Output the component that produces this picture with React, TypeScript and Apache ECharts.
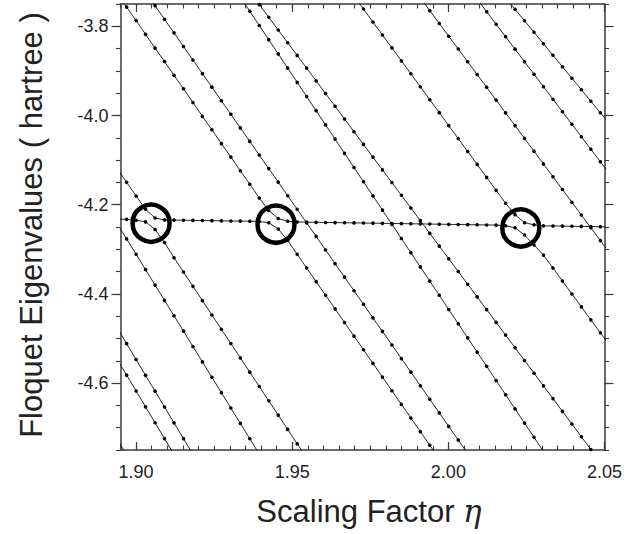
import React, { useEffect, useRef } from "react";
import * as echarts from "echarts";

// Scaling-factor grid (index 0 = first point, left of the plot edge)
const ETA = [
  1.89393, 1.89697, 1.9, 1.90303, 1.90607, 1.9091, 1.91214, 1.91517, 1.9182, 1.92124,
  1.92427, 1.92731, 1.93034, 1.93337, 1.93641, 1.93944, 1.94248, 1.94551, 1.94854, 1.95158,
  1.95461, 1.95765, 1.96068, 1.96371, 1.96675, 1.96978, 1.97282, 1.97585, 1.97888, 1.98192,
  1.98495, 1.98799, 1.99102, 1.99405, 1.99709, 2.00012, 2.00316, 2.00619, 2.00922, 2.01226,
  2.01529, 2.01833, 2.02136, 2.02439, 2.02743, 2.03046, 2.0335, 2.03653, 2.03956, 2.0426,
  2.04563, 2.04867, 2.0517,
];

// Each curve: start index into ETA and eigenvalues (hartree)
const curveS1 = { start: 0, values: [
  -4.2325, -4.2329, -4.235, -4.2384, -4.2556, -4.2848, -4.3189, -4.3509, -4.383, -4.4151,
  -4.4472, -4.4793, -4.5113, -4.5434, -4.5755, -4.6076, -4.6397, -4.6718, -4.7038, -4.7359, -4.768,
] };
const curveS2 = { start: 0, values: [
  -4.1191, -4.1498, -4.1805, -4.2103, -4.2298, -4.2341, -4.2345, -4.2348, -4.2352, -4.2355,
  -4.2358, -4.2362, -4.2365, -4.2368, -4.2371, -4.2375, -4.2406, -4.2545, -4.2803, -4.3112,
  -4.3418, -4.3724, -4.403, -4.4336, -4.4641, -4.4947, -4.5253, -4.5559, -4.5865, -4.6171,
  -4.6477, -4.6782, -4.7088, -4.7394, -4.77,
] };
const curveS3 = { start: 0, values: [
  -3.726, -3.757, -3.787, -3.818, -3.849, -3.879, -3.91, -3.94, -3.971, -4.002,
  -4.032, -4.063, -4.093, -4.124, -4.154, -4.185, -4.213, -4.231, -4.2372, -4.2388,
  -4.2391, -4.2395, -4.2398, -4.2401, -4.2404, -4.2408, -4.2411, -4.2414, -4.2418, -4.2421,
  -4.2424, -4.2428, -4.2431, -4.2434, -4.2437, -4.2441, -4.2444, -4.2447, -4.2451, -4.2454,
  -4.2457, -4.2471, -4.2516, -4.268, -4.2904, -4.313, -4.342, -4.3711, -4.4001, -4.4291,
  -4.4582, -4.4872, -4.5162,
] };
const curveS4 = { start: 25, values: [
  -3.7323, -3.7613, -3.7904, -3.8194, -3.8484, -3.8775, -3.9065, -3.9355, -3.9646, -3.9936,
  -4.0226, -4.0517, -4.0807, -4.1097, -4.1388, -4.1678, -4.1968, -4.2224, -4.2404, -4.2451,
  -4.2474, -4.2477, -4.248, -4.2484, -4.2487, -4.249, -4.2494, -4.2497,
] };
const lineL0b = { start: 0, values: [
  -4.2423, -4.2767, -4.3112, -4.3457, -4.3802, -4.4146, -4.4491, -4.4835, -4.518, -4.5525,
  -4.5869, -4.6214, -4.6559, -4.6903, -4.7248, -4.7592,
] };
const lineL2 = { start: 3, values: [
  -3.7235, -3.7539, -3.7843, -3.8147, -3.8452, -3.8756, -3.906, -3.9364, -3.9669, -3.9973,
  -4.0277, -4.0581, -4.0886, -4.119, -4.1494, -4.1799, -4.2103, -4.2407, -4.2711, -4.3016,
  -4.332, -4.3624, -4.3928, -4.4233, -4.4537, -4.4841, -4.5145, -4.545, -4.5754, -4.6058,
  -4.6362, -4.6667, -4.6971, -4.7275, -4.758,
] };
const lineL3 = { start: 13, values: [
  -3.7345, -3.7664, -3.7982, -3.83, -3.8619, -3.8937, -3.9256, -3.9574, -3.9892, -4.0211,
  -4.0529, -4.0848, -4.1166, -4.1484, -4.1803, -4.2121, -4.244, -4.2758, -4.3076, -4.3395,
  -4.3713, -4.4031, -4.435, -4.4668, -4.4987, -4.5305, -4.5623, -4.5942, -4.626, -4.6579,
  -4.6897, -4.7215, -4.7534,
] };
const lineL4 = { start: 14, values: [
  -3.7228, -3.7513, -3.7798, -3.8083, -3.8368, -3.8653, -3.8938, -3.9223, -3.9508, -3.9793,
  -4.0078, -4.0363, -4.0648, -4.0933, -4.1218, -4.1503, -4.1788, -4.2073, -4.2358, -4.2643,
  -4.2928, -4.3213, -4.3498, -4.3783, -4.4068, -4.4353, -4.4638, -4.4923, -4.5208, -4.5493,
  -4.5778, -4.6063, -4.6348, -4.6633, -4.6918, -4.7203, -4.7488, -4.7773,
] };
const lineF = { start: 32, values: [
  -3.7364, -3.765, -3.7937, -3.8223, -3.8509, -3.8795, -3.9082, -3.9368, -3.9655, -3.9941,
  -4.0227, -4.0514, -4.08, -4.1086, -4.1373, -4.1659, -4.1945, -4.2232, -4.2518, -4.2804, -4.3091,
] };
const lineG = { start: 38, values: [
  -3.7392, -3.7673, -3.7953, -3.8233, -3.8513, -3.8794, -3.9074, -3.9354, -3.9635, -3.9915,
  -4.0195, -4.0476, -4.0756, -4.1036, -4.1317,
] };
const lineH = { start: 41, values: [
  -3.7361, -3.7619, -3.7876, -3.8134, -3.8392, -3.8649, -3.8907, -3.9165, -3.9422, -3.968,
  -3.9938, -4.0195,
] };
const lineP = { start: 0, values: [-4.4761, -4.5116, -4.5471, -4.5826, -4.6181, -4.6536, -4.6891, -4.7246, -4.7601] };
const lineQ = { start: 0, values: [-4.5467, -4.5822, -4.6177, -4.6533, -4.6888, -4.7244, -4.7599] };
const lineR = { start: 0, values: [-4.7254, -4.7612] };

const CURVES = [curveS1, curveS2, curveS3, curveS4, lineL0b, lineL2, lineL3, lineL4, lineF, lineG, lineH, lineP, lineQ, lineR];

// Avoided-crossing markers (eta, eigenvalue)
const CIRCLES = [
  [1.9048, -4.2415],
  [1.9448, -4.2437],
  [2.0232, -4.2522],
];

const X_MIN = 1.895;
const X_MAX = 2.05;
const Y_MIN = -4.75;
const Y_MAX = -3.75;
const X_TICKS = [1.9, 1.95, 2.0, 2.05];
const Y_TICKS = [-4.6, -4.4, -4.2, -4.0, -3.8];

const FONT = "'Liberation Sans', Arial, Helvetica, sans-serif";
const AXIS_COLOR = "#3a3a3a";

export default function App() {
  const ref = useRef<HTMLDivElement>(null);

  useEffect(() => {
    if (!ref.current) return;
    const chart = echarts.init(ref.current, undefined, { renderer: "svg" });

    const gridRect = { left: 120.5, top: 4, width: 484, height: 446 };

    const majorX = (pos: string, labels: boolean) => ({
      type: "value",
      gridIndex: 0,
      position: pos,
      min: X_MIN,
      max: X_MAX,
      axisLine: { show: true, onZero: false, lineStyle: { color: AXIS_COLOR, width: 1.5 } },
      axisTick: { show: true, inside: true, length: 8, customValues: X_TICKS, lineStyle: { color: AXIS_COLOR, width: 1.2 } },
      axisLabel: {
        show: labels,
        customValues: X_TICKS,
        margin: 13,
        color: "#222",
        fontSize: 18,
        fontFamily: FONT,
        formatter: (v: number) => v.toFixed(2),
      },
      splitLine: { show: false },
    });
    const minorX = (pos: string) => ({
      type: "value",
      gridIndex: 1,
      position: pos,
      min: X_MIN,
      max: X_MAX,
      interval: 0.005,
      axisLine: { show: false, onZero: false },
      axisTick: { show: true, inside: true, length: 4.5, lineStyle: { color: AXIS_COLOR, width: 1.1 } },
      axisLabel: { show: false },
      splitLine: { show: false },
    });
    const majorY = (pos: string, labels: boolean) => ({
      type: "value",
      gridIndex: 0,
      position: pos,
      min: Y_MIN,
      max: Y_MAX,
      axisLine: { show: true, onZero: false, lineStyle: { color: AXIS_COLOR, width: 1.5 } },
      axisTick: { show: true, inside: false, length: 9, customValues: Y_TICKS, lineStyle: { color: AXIS_COLOR, width: 1.2 } },
      axisLabel: {
        show: labels,
        customValues: Y_TICKS,
        margin: 12,
        color: "#222",
        fontSize: 18,
        fontFamily: FONT,
        formatter: (v: number) => v.toFixed(1),
      },
      splitLine: { show: false },
    });
    const minorY = (pos: string) => ({
      type: "value",
      gridIndex: 1,
      position: pos,
      min: Y_MIN,
      max: Y_MAX,
      interval: 0.05,
      axisLine: { show: false, onZero: false },
      axisTick: { show: true, inside: false, length: 4.5, lineStyle: { color: AXIS_COLOR, width: 1.1 } },
      axisLabel: { show: false },
      splitLine: { show: false },
    });

    const lineSeries = CURVES.map((c) => ({
      type: "line",
      xAxisIndex: 0,
      yAxisIndex: 0,
      data: c.values.map((v, i) => [ETA[c.start + i], v]),
      symbol: "circle",
      symbolSize: 3.6,
      showSymbol: true,
      showAllSymbol: true,
      clip: true,
      silent: true,
      lineStyle: { color: "#111", width: 0.9 },
      itemStyle: { color: "#000" },
      z: 2,
    }));

    chart.setOption({
      animation: false,
      backgroundColor: "#fff",
      grid: [
        { ...gridRect, containLabel: false },
        { ...gridRect, containLabel: false },
      ],
      xAxis: [majorX("bottom", true), majorX("top", false), minorX("bottom"), minorX("top")],
      yAxis: [majorY("left", true), majorY("right", false), minorY("left"), minorY("right")],
      series: [
        ...lineSeries,
        {
          type: "scatter",
          xAxisIndex: 0,
          yAxisIndex: 0,
          data: CIRCLES,
          symbol: "circle",
          symbolSize: 37,
          silent: true,
          itemStyle: { color: "rgba(0,0,0,0)", borderColor: "#000", borderWidth: 4.5, opacity: 1 },
          z: 5,
        },
      ],
      graphic: [
        {
          type: "text",
          x: 31,
          y: 225,
          rotation: Math.PI / 2,
          style: {
            text: "Floquet Eigenvalues ( hartree )",
            fontSize: 31,
            fontFamily: FONT,
            fill: "#222",
            align: "center",
            verticalAlign: "middle",
          },
        },
        {
          type: "text",
          x: 369,
          y: 511,
          style: {
            text: "Scaling Factor {eta|η}",
            fontSize: 31,
            fontFamily: FONT,
            fill: "#222",
            align: "center",
            verticalAlign: "middle",
            rich: {
              eta: { fontSize: 31, fontFamily: "'DejaVu Serif', 'Liberation Serif', serif", fontStyle: "italic", fill: "#222" },
            },
          },
        },
      ],
    });

    return () => chart.dispose();
  }, []);

  return (
    <div
      ref={ref}
      style={{ position: "fixed", left: 0, top: 0, width: 643, height: 534, background: "#fff" }}
    />
  );
}
